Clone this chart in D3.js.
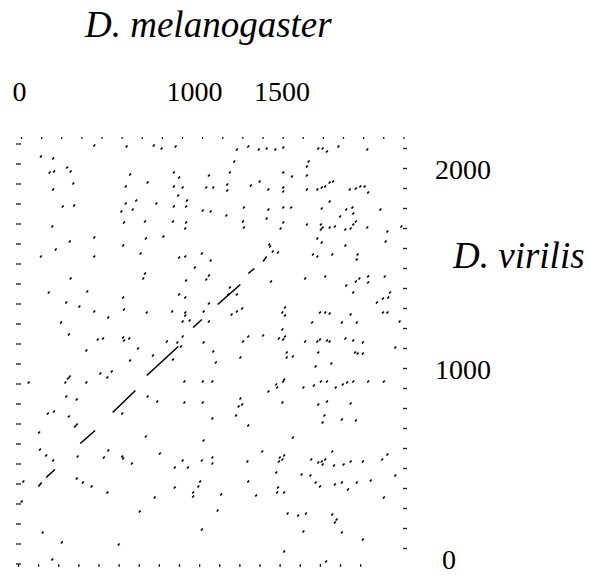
<!DOCTYPE html>
<html lang="en">
<head>
    <meta charset="UTF-8">
    <title>Dot plot: D. melanogaster vs D. virilis</title>
    <style>
        body {
            margin: 0;
            background: #fff;
        }
        svg {
            display: block;
        }
        .label {
            font-family: "Liberation Serif", "Times New Roman", serif;
            fill: #000;
        }
    </style>
</head>
<body>
<div id="chart"></div>

<script src="https://d3js.org/d3.v7.min.js"></script>
<script>
    // sequence lengths / axis labels
    const melLength = 2200;
    const virLength = 2125;
    const xTickStep = 115;
    const yTickStep = 100;
    const xLabels = [0, 1000, 1500];
    const yLabels = [0, 1000, 2000];
    const xTitle = "D. melanogaster";
    const yTitle = "D. virilis";

    // short matches [melanogaster position, virilis position]
    const dots = [
        [430,2100],[615,2095],[770,2100],[815,2085],[895,2095],[1310,2095],[1245,2080],[1370,2080],[1415,2085],[1465,2080],[1510,2090],
        [1710,2085],[1735,2085],[1825,2095],[1760,2070],[1990,2080],
        [125,2045],[195,2035],[1230,2020],[1655,2020],
        [175,1965],[200,1970],[275,1990],[295,1970],[635,1955],[885,1965],[915,1940],[1085,1950],[1205,1965],[1510,1965],[1560,1945],[1645,1995],[1645,1950],
        [310,1910],[735,1915],[610,1895],[195,1880],[885,1895],[935,1890],[1070,1890],[1110,1890],[1190,1905],[1190,1875],[1325,1900],[1375,1920],[1425,1880],[1510,1890],[1510,1870],
        [1645,1880],[1705,1880],[1730,1890],[1750,1895],[1775,1915],[1795,1920],[1890,1880],[1925,1885],[1950,1895],[1975,1895],[1995,1865],
        [910,1850],[960,1825],[670,1825],[610,1810],[785,1810],[250,1795],[315,1800],[585,1770],[650,1780],[885,1795],[955,1795],[1050,1775],[1095,1770],[1285,1790],[1425,1780],[1510,1790],[1555,1790],
        [1775,1820],[1730,1785],[1870,1780],[1905,1790],[2065,1780],[1835,1745],[1910,1760],
        [1185,1750],[1415,1735],[190,1695],[600,1715],[720,1720],[880,1720],[955,1715],[950,1685],[1280,1720],[1285,1690],[1510,1715],[1495,1685],
        [1645,1705],[1725,1705],[1725,1680],[1735,1690],[1775,1690],[1805,1695],[1865,1680],[1895,1685],[1910,1705],[1925,1720],[1990,1690],[2105,1670],[2185,1695],
        [430,1640],[290,1620],[210,1580],[595,1600],[725,1635],[825,1645],[1430,1605],[1435,1595],[1450,1570],[1480,1565],
        [1705,1635],[1730,1615],[1865,1600],[2095,1620],
        [125,1545],[430,1545],[695,1560],[915,1540],[950,1545],[1045,1560],[1095,1525],
        [1680,1555],[1705,1545],[1790,1555],[1935,1555],[1930,1530],
        [1005,1490],[295,1435],[720,1460],[710,1435],[955,1425],[1070,1430],[1085,1450],[1440,1420],
        [1635,1435],[1750,1445],[1870,1400],[1925,1420],[1945,1435],[1995,1445],[1995,1415],[2090,1445],
        [170,1365],[390,1370],[915,1355],[950,1340],[595,1340],[1205,1390],[1195,1355],[1245,1355],
        [1910,1365],[2045,1315],[2080,1335],[2110,1340],[2120,1365],
        [270,1315],[345,1295],[1085,1310],[430,1270],[600,1280],[730,1265],[875,1270],[950,1265],[950,1250],[1055,1270],[1215,1255],[1245,1270],[1275,1285],[1505,1265],[1520,1290],[1520,1250],
        [1675,1215],[1720,1265],[1750,1265],[1775,1260],[1845,1215],[1895,1255],[1930,1215],[2080,1265],[2105,1265],[2175,1220],
        [510,1240],[240,1215],[935,1220],[975,1225],[1085,1220],
        [285,1155],[450,1130],[480,1135],[595,1140],[600,1125],[630,1135],[845,1120],[905,1115],[935,1145],[925,1095],[1055,1115],[1310,1145],[1280,1120],[1395,1150],[1485,1135],[1510,1130],[1520,1145],[1505,1180],
        [1635,1120],[1705,1120],[1720,1130],[1760,1125],[1775,1120],[1865,1135],[1910,1125],[1965,1115],[2150,1090],
        [385,1075],[680,1085],[765,1050],[1110,1070],[1265,1040],[1530,1065],[1565,1045],[1530,1040],
        [1710,1065],[1920,1065],[1935,1060],[1965,1060],
        [880,1030],[635,1025],[1125,1015],[1695,995],[1785,1010],
        [55,915],[265,915],[280,935],[290,945],[385,915],[465,960],[530,970],[505,940],[945,920],[1050,920],[1105,920],[1425,870],[1470,905],[1475,890],[1510,920],[1515,930],
        [1625,890],[1685,900],[1725,920],[1760,920],[1810,890],[1850,905],[1875,915],[1910,920],[1995,920],[2085,920],
        [735,845],[790,820],[945,815],[1050,815],[1265,835],[1275,805],[1255,795],[1505,815],[270,845],[330,830],
        [1710,805],[1760,820],[1895,810],
        [165,760],[200,770],[285,745],[590,760],[1105,735],[1240,750],[1310,700],[330,705],[320,695],
        [1745,750],[1735,715],[1845,730],[1925,725],
        [115,665],[725,645],[1055,625],[1565,640],
        [120,580],[155,550],[195,525],[335,545],[510,575],[485,540],[590,545],[595,535],[645,510],[805,560],[890,490],[935,525],[965,490],[1045,525],[1105,540],[1105,510],[1305,520],[1390,570],[1490,540],[1515,550],[1485,520],[1505,530],
        [1670,530],[1710,515],[1730,520],[1750,530],[1735,505],[1790,570],[1800,500],[1855,505],[1895,520],[1965,520],[2075,530],[2105,555],
        [25,420],[330,435],[365,415],[415,395],[505,365],[15,320],[690,270],[775,340],[890,390],[995,365],[995,345],[1025,395],[1035,420],[1155,355],[1135,275],[1310,420],[1355,350],[1470,465],[1480,390],[1475,365],[1515,365],[1535,260],[1595,250],
        [2150,450],[1615,455],[1665,450],[1695,415],[1720,395],[1805,405],[1845,415],[1880,380],[1930,415],[2010,425],[2085,340],[1640,260],[1790,255],[1805,215],[1815,230],
        [135,165],[245,115],[570,105],[1045,180],[1515,70],[190,30],
        [1625,170],[1845,165],[1965,130],[1755,20]
    ];

    // longer runs along the main diagonal [mel start, vir start, mel end, vir end]
    const diagonal = [
        [110,395,130,415],
        [155,440,205,480],
        [350,610,435,675],
        [535,765,665,875],
        [730,950,910,1095],
        [995,1190,1045,1230],
        [1135,1305,1265,1405],
        [1310,1460,1345,1485],
        [1395,1520,1415,1545]
    ];

    const width = 589;
    const height = 575;

    const svg = d3.select("#chart")
        .append("svg")
        .attr("width", width)
        .attr("height", height);

    const x = d3.scaleLinear().domain([0, melLength]).range([19, 404]);
    const y = d3.scaleLinear().domain([0, virLength]).range([565.5, 140.5]);

    const xTicksTop = d3.range(0, melLength, xTickStep);
    const xTicksBottom = d3.range(0, 2000, xTickStep);
    const yTicks = d3.range(0, virLength, yTickStep);

    // tick marks only, no domain line
    function ticks(axis, tx, ty) {
        const g = svg.append("g")
            .attr("transform", "translate(" + tx + "," + ty + ")")
            .call(axis);
        g.select(".domain").remove();
        g.selectAll("text").remove();
        g.selectAll("line").attr("stroke", "#1a1a1a").attr("stroke-width", 1.3);
    }

    ticks(d3.axisLeft(y).tickValues(yTicks).tickSize(5), 21, -2);
    ticks(d3.axisRight(y).tickValues(yTicks.slice(1)).tickSize(4), 403, 2.5);
    ticks(d3.axisTop(x).tickValues(xTicksTop).tickSize(2), 2, 139);
    ticks(d3.axisBottom(x).tickValues(xTicksBottom).tickSize(3), -1, 564);

    // matches: short dark strokes
    const half = 5;
    svg.append("g")
        .selectAll("line")
        .data(dots)
        .join("line")
        .attr("x1", d => x(d[0] - half))
        .attr("y1", d => y(d[1] - half))
        .attr("x2", d => x(d[0] + half))
        .attr("y2", d => y(d[1] + half))
        .attr("stroke", "#000")
        .attr("stroke-width", 1.7);

    svg.append("g")
        .selectAll("line")
        .data(diagonal)
        .join("line")
        .attr("x1", d => x(d[0]))
        .attr("y1", d => y(d[1]))
        .attr("x2", d => x(d[2]))
        .attr("y2", d => y(d[3]))
        .attr("stroke", "#000")
        .attr("stroke-width", 1.6);

    // number labels
    const topAxis = svg.append("g")
        .attr("transform", "translate(0,101)")
        .call(d3.axisTop(x).tickValues(xLabels).tickSize(0).tickPadding(0).tickFormat(d3.format("d")));
    topAxis.select(".domain").remove();
    topAxis.selectAll("text")
        .attr("class", "label")
        .style("font-size", "28px");

    const rightAxis = svg.append("g")
        .attr("transform", "translate(435,4)")
        .call(d3.axisRight(y).tickValues(yLabels).tickSize(0).tickPadding(0).tickFormat(d3.format("d")));
    rightAxis.select(".domain").remove();
    rightAxis.selectAll("text")
        .attr("class", "label")
        .style("font-size", "28px");
    // the bottom "0" sits higher and further right in the original
    rightAxis.selectAll("text")
        .filter(d => d === 0)
        .attr("x", 7)
        .attr("y", -10);

    // species names
    svg.append("text")
        .attr("class", "label")
        .attr("x", 85)
        .attr("y", 37)
        .style("font-style", "italic")
        .style("font-size", "37px")
        .text(xTitle);

    svg.append("text")
        .attr("class", "label")
        .attr("x", 453)
        .attr("y", 268)
        .style("font-style", "italic")
        .style("font-size", "37px")
        .text(yTitle);
</script>

</body>
</html>
